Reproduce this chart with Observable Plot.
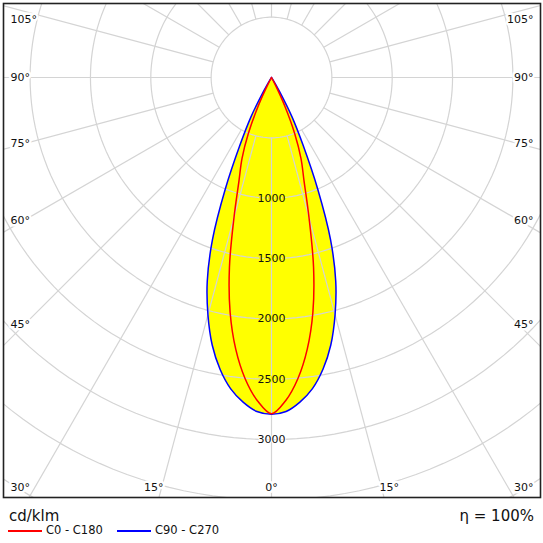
<!DOCTYPE html>
<html>
<head>
<meta charset="utf-8">
<script src="https://cdn.jsdelivr.net/npm/d3@7"></script>
<script src="https://cdn.jsdelivr.net/npm/@observablehq/plot@0.6"></script>
<style>
  body { margin: 0; background: #fff; }
  #wrap { position: relative; width: 543px; height: 543px; font-family: "DejaVu Sans", Verdana, sans-serif; color: #111; }
  #chart { position: absolute; left: 0; top: 0; }
  .lg { position: absolute; white-space: nowrap; line-height: 1; }
  .sw { position: absolute; height: 1.5px; }
</style>
</head>
<body>
<div id="wrap">
  <div id="chart"></div>
  <div class="lg" id="unit" style="left:9px; top:509px; font-size:15px;"></div>
  <div class="lg" id="eta" style="right:9px; top:509px; font-size:15px;"></div>
  <div class="sw" id="sw0" style="left:8px; top:530px; width:34px;"></div>
  <div class="lg" id="lg0" style="left:46px; top:525px; font-size:11.5px;"></div>
  <div class="sw" id="sw1" style="left:117px; top:530px; width:34px;"></div>
  <div class="lg" id="lg1" style="left:155px; top:525px; font-size:11.5px;"></div>
</div>
<script>
// ---------- data ----------
const gammaAngles = [0, 2.5, 5, 7.5, 10, 12.5, 15, 17.5, 20, 22.5, 25, 27.5, 30, 32.5, 35, 45, 60, 75, 90];
const c0c180  = [2785, 2680, 2505, 2270, 1975, 1610, 1200, 895, 715, 500, 260, 60, 0, 0, 0, 0, 0, 0, 0];
const c90c270 = [2790, 2770, 2700, 2600, 2455, 2270, 2035, 1770, 1430, 1000, 620, 370, 130, 30, 0, 0, 0, 0, 0];
const seriesNames = ["C0 - C180", "C90 - C270"];
const seriesColors = ["#ff0000", "#0000ff"];
const ringValues = [500, 1000, 1500, 2000, 2500, 3000, 3500, 4000];
const ringLabels = [1000, 1500, 2000, 2500, 3000];
const spokeAngles = d3.range(0, 360, 15);
const angleLabels = [0, 15, 30, 45, 60, 75, 90, 105];
const unitText = "cd/klm";
const etaText = "η = 100%";

// ---------- geometry ----------
const k = 0.1207;            // px per cd/klm
const cx = 271, cy = 77;     // pole position in px
const W = 543, H = 500, m = 3;
const toX = px => (px - cx) / k;
const toY = py => (cy - py) / k;
const rad = g => g * Math.PI / 180;

function curvePoints(values) {
  const right = gammaAngles.map((g, i) => ({g, r: values[i], s: 1}));
  const left = right.slice().reverse().map(d => ({...d, s: -1}));
  const pts = [...left, ...right.slice(1)].map(d => ({
    x: d.s * d.r * Math.sin(rad(d.g)),
    y: -d.r * Math.cos(rad(d.g))
  }));
  return pts.filter((p, i) => i === 0 || Math.hypot(p.x - pts[i - 1].x, p.y - pts[i - 1].y) > 1e-6);
}
const red = curvePoints(c0c180);
const blue = curvePoints(c90c270);

const rings = ringValues.flatMap(v => d3.range(0, 361, 2).map(a => ({v, x: v * Math.sin(rad(a)), y: -v * Math.cos(rad(a))})));
const spokes = spokeAngles.map(a => ({
  x1: 500 * Math.sin(rad(a)), y1: -500 * Math.cos(rad(a)),
  x2: 6000 * Math.sin(rad(a)), y2: -6000 * Math.cos(rad(a))
}));

// angle labels placed where each ray meets an inset box
const angLab = [];
for (const g of angleLabels) {
  const sides = g === 0 ? [0] : [-1, 1];
  for (const s of sides) {
    const t = g + "°";
    if (g === 0) { angLab.push({px: cx, py: 487, t, anchor: "middle"}); continue; }
    const bottomDx = Math.cos(rad(g)) > 0 ? (480 - cy) * Math.tan(rad(g)) : Infinity;
    if (bottomDx < 226) {
      angLab.push({px: cx + s * bottomDx, py: 487, t, anchor: s < 0 ? "end" : "start"});
    } else {
      const py = Math.max(19, Math.min(487, cy + 247 / Math.tan(rad(g))));
      angLab.push({px: s < 0 ? 10 : 533, py, t, anchor: s < 0 ? "start" : "end"});
    }
  }
}
const labelMarks = ["start", "middle", "end"].map(a =>
  Plot.text(angLab.filter(d => d.anchor === a), {
    x: d => toX(d.px), y: d => toY(d.py), text: "t", textAnchor: a,
    fill: "#111", stroke: "white", strokeWidth: 5, fontSize: 11
  })
);

const chart = Plot.plot({
  width: W, height: H,
  marginTop: m, marginBottom: m, marginLeft: m, marginRight: m,
  x: {domain: [toX(m), toX(W - m)], axis: null},
  y: {domain: [toY(H - m), toY(m)], axis: null},
  style: {fontFamily: "DejaVu Sans, Verdana, sans-serif", fontSize: "11px", background: "white"},
  marks: [
    Plot.line(blue, {x: "x", y: "y", fill: "#ffff00", stroke: "none", curve: "catmull-rom"}),
    Plot.line(rings, {x: "x", y: "y", z: "v", stroke: "#d4d4d4", strokeWidth: 1.2, clip: true}),
    Plot.link(spokes, {x1: "x1", y1: "y1", x2: "x2", y2: "y2", stroke: "#d4d4d4", strokeWidth: 1.2, clip: true}),
    Plot.text(ringLabels, {x: 0, y: d => -d, text: d => String(d), fill: "#111",
      stroke: d => d < c90c270[0] ? "#ffff00" : "white", strokeWidth: 2, fontSize: 11}),
    Plot.line(blue, {x: "x", y: "y", stroke: seriesColors[1], strokeWidth: 1.5, curve: "catmull-rom"}),
    Plot.line(red, {x: "x", y: "y", stroke: seriesColors[0], strokeWidth: 1.5, curve: "catmull-rom"}),
    ...labelMarks,
    Plot.frame({stroke: "#222", strokeWidth: 1.6})
  ]
});
document.getElementById("chart").appendChild(chart);

document.getElementById("unit").textContent = unitText;
document.getElementById("eta").textContent = etaText;
document.getElementById("lg0").textContent = seriesNames[0];
document.getElementById("lg1").textContent = seriesNames[1];
document.getElementById("sw0").style.background = seriesColors[0];
document.getElementById("sw1").style.background = seriesColors[1];
</script>
</body>
</html>
